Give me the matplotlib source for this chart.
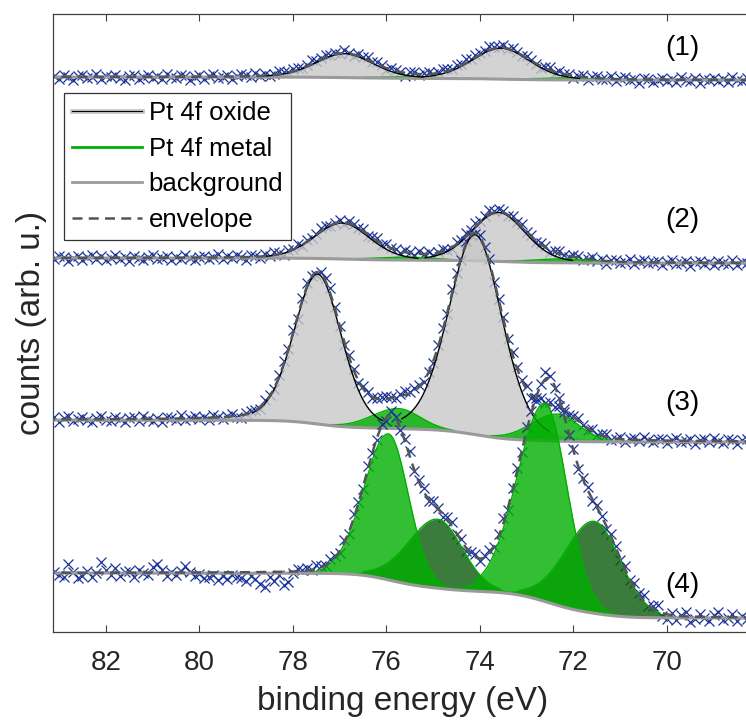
import numpy as np
import matplotlib
matplotlib.use("Agg")
import matplotlib.pyplot as plt
from matplotlib.lines import Line2D
from matplotlib.legend_handler import HandlerTuple

plt.rcParams["font.family"] = ["Liberation Sans", "DejaVu Sans"]

# binding-energy grid of the measured points (eV), 83.1 ... 68.3
energy = np.arange(831, 682, -1) / 10.0

# spectrum labels
labels = ["(1)", "(2)", "(3)", "(4)"]

# Shirley background: level at the low-BE end and total step height
bg_low = [552, 369, 190, 14]
bg_step = [3, 5, 22, 45]

# Pt 4f oxide doublet (centre eV, height, FWHM eV)
oxide_centre = [[76.90, 73.55], [76.95, 73.60], [77.47, 74.10], []]
oxide_height = [[24, 31], [36, 49], [150, 200], []]
oxide_fwhm = [[1.45, 1.45], [1.40, 1.35], [1.20, 1.35], []]

# Pt 4f metal doublet
metal_centre = [[75.50, 72.15], [75.55, 72.20], [75.75, 72.35], [75.95, 72.60]]
metal_height = [[1.5, 2], [3, 4], [20, 27], [146, 198]]
metal_fwhm = [[1.3, 1.3], [1.3, 1.3], [1.1, 1.1], [1.0, 1.1]]
metal_asym = [[1.2, 1.2], [1.2, 1.2], [1.2, 1.2], [1.24, 1.28]]

# second metallic doublet (only in spectrum 4)
metal2_centre = [[], [], [], [74.90, 71.55]]
metal2_height = [[], [], [], [69, 92]]
metal2_fwhm = [[], [], [], [1.24, 1.30]]
metal2_asym = [[], [], [], [1.2, 1.15]]

# residuals of the measured counts with respect to the fit envelope
resid_1 = [1, -2, 2, 0, -3, 1, 2, -1, 0, 3,
           -2, 1, 0, 2, -1, -3, 1, 2, -2, 0,
           2, -1, 1, -2, 3, 0, -1, 2, 1, -3,
           0, 2, -2, 1, 3, -1, 0, 2, -2, 1,
           2, 1, -1, 3, 0, 2, -1, 1, 3, 2,
           1, 3, 2, 0, 2, 4, 1, 2, 3, 1,
           2, 0, 3, 1, -1, 2, 1, 3, 0, 2,
           1, -2, 2, 1, 0, -3, 1, 2, -1, 1,
           2, 0, 1, 3, 2, 1, 3, 2, 4, 1,
           3, 2, 1, 4, 2, 1, 3, 0, 2, 1,
           -1, 2, 1, 0, -2, 1, 3, -1, 2, 0,
           1, -2, 0, 2, -3, 1, 2, -1, 0, 3,
           -2, 1, 2, -1, 0, -3, 2, 1, -2, 0,
           2, -1, 1, -2, 3, 0, -1, 2, -3, 1,
           0, 2, -1, 1, -2, 3, 0, -1, 2]
resid_2 = [-1, 2, 1, -3, 0, 2, -2, 1, 3, -1,
           2, -2, 0, 3, -1, 1, -3, 2, 0, -2,
           1, 3, -1, 0, 2, -2, 1, -1, 3, 0,
           -2, 1, 2, -1, 0, 3, -2, 1, -1, 2,
           0, -3, 2, 1, -1, 2, 0, 3, 1, -2,
           2, 1, 3, -1, 2, 0, 1, 3, 2, -1,
           1, 2, -2, 3, 1, 0, 2, -1, 1, 3,
           -1, 2, 0, 1, -2, 2, 1, -1, 3, 0,
           2, -1, 1, 3, 0, -2, 2, 1, 3, 2,
           4, 1, 2, 5, 1, 3, 2, -1, 2, 1,
           3, 0, 2, -1, 1, 2, -2, 1, 3, 0,
           -1, 2, 1, -2, 0, 3, -1, 2, -3, 1,
           2, -1, 0, 3, -2, 1, 2, -1, 0, 2,
           -2, 1, 3, -1, 0, 2, -3, 1, 2, -1,
           1, -2, 2, 0, -1, 3, -2, 1, 0]
resid_3 = [2, -3, 1, 3, -2, 0, 2, -1, -3, 1,
           3, -1, -2, 2, 0, -3, 1, 2, -2, 3,
           0, -2, 1, -3, 2, 1, -1, 3, -2, 0,
           2, -1, 1, -2, 3, 0, -2, 1, 2, -1,
           -3, 1, 2, 0, -2, 3, 1, -1, 2, 4,
           1, 3, -2, 2, 4, 1, -3, 2, 3, 6,
           2, -1, -3, 2, 1, -2, 3, 2, -1, 1,
           2, 3, 1, -1, 2, 4, 1, 3, 2, -1,
           1, -2, 2, 3, -1, 4, 2, -2, 3, 1,
           -1, 2, 0, 3, -2, 1, 2, -1, 3, 2,
           1, 3, -2, 2, 4, 1, 3, -1, 2, 1,
           -2, 1, 3, 0, -2, 2, -1, 1, 3, -2,
           0, 2, -3, 1, 2, -1, 3, 0, -2, 1,
           2, -2, 1, 3, -1, 0, 2, -3, 1, 2,
           -1, 3, 0, -2, 2, 1, -3, 1, 2]
resid_4 = [1, -2, -4, 9, 1, -5, -3, 2, -4, 0,
           11, 3, -2, 5, -3, 1, 2, -4, 3, 0,
           -2, 6, 9, 3, -3, 1, -2, 2, 7, 1,
           -3, -1, -6, -5, -3, -8, -4, -7, -3, -5,
           -6, -9, -4, -7, -12, -15, -5, -9, -3, -13,
           -10, -1, 2, 1, 3, 0, 4, 2, -1, 3,
           1, -2, 2, -3, 4, 1, -2, 3, 0, -2,
           2, -3, 4, 1, -2, 3, 5, -1, 2, 4,
           -2, 3, 1, -3, 2, 4, -1, 2, -3, 1,
           3, -2, 1, 4, -1, 2, 5, -3, 1, 2,
           -2, 3, 1, -4, 2, 7, 3, -2, 1, 4,
           -1, 2, -3, 1, 3, -2, 2, 0, -3, 2,
           1, -2, 3, -1, 4, 2, 5, -1, 3, 6,
           -3, -5, 2, -4, 1, 4, -5, -2, 3, -1,
           -4, 2, 5, -3, -1, 3, -4, 1, -2]
residuals = [resid_1, resid_2, resid_3, resid_4]

# colours
c_marker = "#1a3399"
c_oxide = "#c8c8c8"
c_metal = "#00af00"
c_metal2 = "#0a5a0a"
c_edge_metal = "#00b000"
c_bg = "#9a9a9a"
c_env = "#555555"
c_axis = "#404040"
c_text = "#262626"

marker_size = [6.5, 6.5, 6.5, 7.5]


def peak(e, centre, height, fwhm, asym=1.0, eta=0.15):
    """Asymmetric pseudo-Voigt line (longer tail on the high-BE side)."""
    hw = np.where(e > centre, fwhm * asym, fwhm) / 2.0
    x = (e - centre) / hw
    return height * ((1 - eta) * np.exp(-np.log(2) * x ** 2) + eta / (1 + x ** 2))


fig = plt.figure(figsize=(7.46, 7.2), dpi=100)
ax = fig.add_axes([0.0704, 0.1222, 0.9397, 0.8583])

e_fine = np.linspace(83.3, 68.0, 1531)

for k in range(4):
    z = 2 + k
    comps = []
    for c, h, w, a in zip(metal2_centre[k], metal2_height[k], metal2_fwhm[k], metal2_asym[k]):
        comps.append(("metal2", h, peak(e_fine, c, h, w, a, 0.08)))
    for c, h, w, a in zip(metal_centre[k], metal_height[k], metal_fwhm[k], metal_asym[k]):
        comps.append(("metal", h, peak(e_fine, c, h, w, a, 0.08)))
    for c, h, w in zip(oxide_centre[k], oxide_height[k], oxide_fwhm[k]):
        comps.append(("oxide", h, peak(e_fine, c, h, w, 1.0, 0.2)))

    total = np.sum([cv for _, _, cv in comps], axis=0)
    # Shirley-type background: step follows the integrated peak area
    cum = np.cumsum(total[::-1])[::-1]
    bg = bg_low[k] + bg_step[k] * cum / cum[0]
    env = bg + total

    counts = np.interp(energy, e_fine[::-1], env[::-1]) + np.array(residuals[k])
    ax.plot(energy, counts, "x", color=c_marker, ms=marker_size[k], mew=0.9,
            zorder=z, linestyle="none")

    for kind, h, cv in comps:
        top = bg + cv
        edge = np.where(cv > max(0.5, 0.05 * h), top, np.nan)
        if kind == "oxide":
            ax.fill_between(e_fine, bg, top, color=c_oxide, alpha=0.8, lw=0, zorder=z + 0.1)
            ax.plot(e_fine, edge, color="black", lw=1.0, zorder=z + 0.4)
        elif kind == "metal":
            ax.fill_between(e_fine, bg, top, color=c_metal, alpha=0.8, lw=0, zorder=z + 0.2)
            ax.plot(e_fine, edge, color=c_edge_metal, lw=1.0, zorder=z + 0.25)
        else:
            ax.fill_between(e_fine, bg, top, color=c_metal2, alpha=0.8, lw=0, zorder=z + 0.1)
            ax.plot(e_fine, edge, color=c_edge_metal, lw=1.0, zorder=z + 0.15)

    ax.plot(e_fine, bg, color=c_bg, lw=2.2, zorder=z + 0.3)
    ax.plot(e_fine, env, color=c_env, lw=1.8, dashes=(4, 2.5), zorder=z + 0.5)

# spectrum numbers
label_y = [584, 412, 229, 47]
for lab, yy in zip(labels, label_y):
    ax.text(69.67, yy, lab, ha="center", va="center", fontsize=20, color="black",
            zorder=10)

ax.set_xlim(83.14, 68.15)
ax.set_ylim(0, 618)
ax.set_xticks([82, 80, 78, 76, 74, 72, 70])
ax.set_yticks([])
ax.tick_params(axis="x", direction="in", top=True, bottom=True, length=5, width=0.8,
               color=c_axis, labelsize=20, labelcolor=c_text, pad=13)
for s in ax.spines.values():
    s.set_color(c_axis)
    s.set_linewidth(0.9)

ax.set_xlabel("binding energy (eV)", fontsize=24, color=c_text, labelpad=7)
ax.set_ylabel("counts (arb. u.)", fontsize=24, color=c_text, labelpad=4)

h_oxide = (Line2D([], [], color=c_oxide, lw=3.5), Line2D([], [], color="black", lw=0.8))
h_metal = Line2D([], [], color=c_edge_metal, lw=2)
h_bg = Line2D([], [], color=c_bg, lw=2)
h_env = Line2D([], [], color=c_env, lw=1.8, dashes=(4, 2.5))
leg = ax.legend([h_oxide, h_metal, h_bg, h_env],
                ["Pt 4f oxide", "Pt 4f metal", "background", "envelope"],
                handler_map={tuple: HandlerTuple(ndivide=1, pad=0)},
                loc="upper left", bbox_to_anchor=(0.0164, 0.872), borderaxespad=0,
                fontsize=18.5, frameon=True, fancybox=False, edgecolor="black",
                handlelength=2.7, handletextpad=0.27, labelspacing=0.45, borderpad=0.32)
leg.get_frame().set_linewidth(0.9)
leg.set_zorder(20)

fig.savefig("out.png", dpi=100)
